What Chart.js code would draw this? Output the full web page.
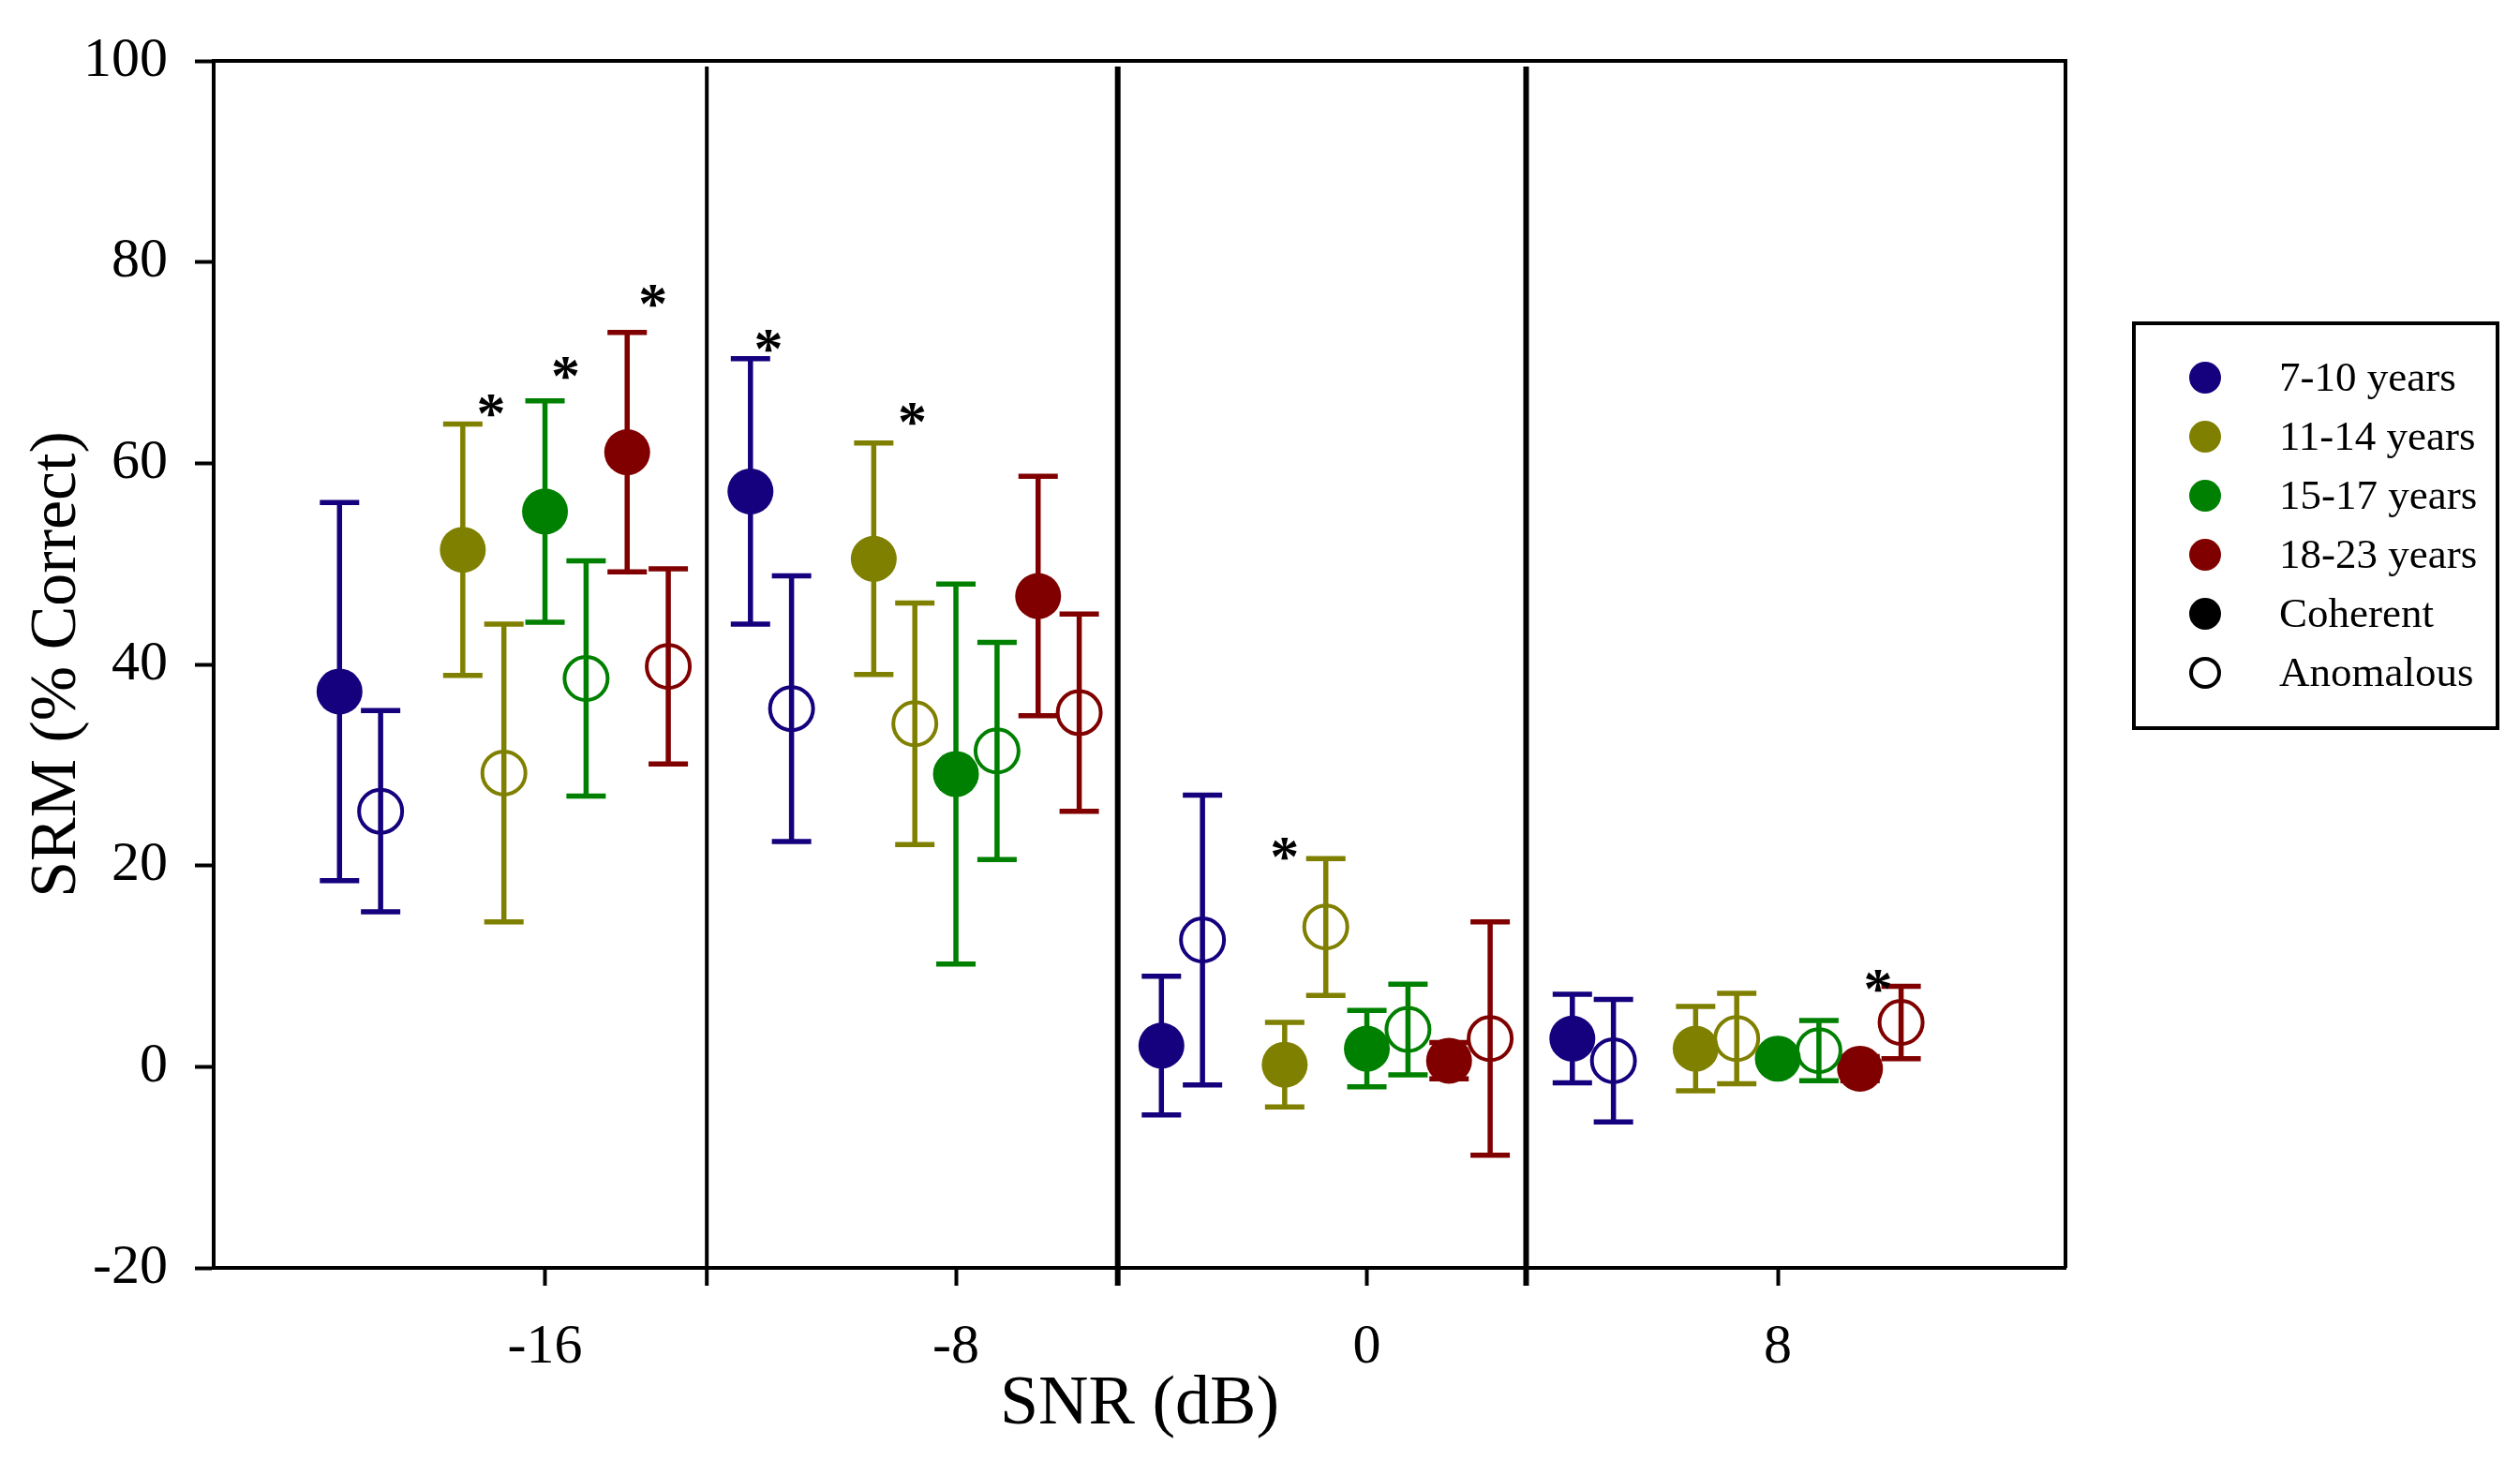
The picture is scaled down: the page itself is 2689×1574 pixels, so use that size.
<!DOCTYPE html>
<html>
<head>
<meta charset="utf-8">
<title>SRM by SNR</title>
<script src="https://cdn.jsdelivr.net/npm/chart.js@4.4.1/dist/chart.umd.min.js"></script>
<style>
  html, body { margin: 0; padding: 0; background: #fff; }
  #wrap { width: 2689px; height: 1574px; }
</style>
</head>
<body>
<div id="wrap"><canvas id="srmChart" width="2689" height="1574"></canvas></div>
<script>
// SNR conditions (dB) and groups
const snrLevels = [-16, -8, 0, 8];
const ageGroups = ['7-10 years', '11-14 years', '15-17 years', '18-23 years'];
const conditions = ['Coherent', 'Anomalous'];

// SRM (% correct): one row per age group, one column per SNR
const coherentMeans = [
  [37.3, 57.2, 2.1, 2.8],
  [51.4, 50.5, 0.2, 1.8],
  [55.2, 29.1, 1.8, 0.8],
  [61.1, 46.8, 0.6, -0.2],
];
const coherentSD = [
  [18.8, 13.2, 6.9, 4.4],
  [12.5, 11.5, 4.2, 4.2],
  [11.0, 18.9, 3.8, 0.8],
  [11.9, 11.9, 1.8, 1.2],
];
const anomalousMeans = [
  [25.4, 35.6, 12.6, 0.6],
  [29.2, 34.1, 13.9, 2.8],
  [38.6, 31.4, 3.7, 1.6],
  [39.8, 35.2, 2.8, 4.4],
];
const anomalousSD = [
  [10.0, 13.2, 14.4, 6.1],
  [14.8, 12.0, 6.8, 4.5],
  [11.7, 10.8, 4.5, 3.0],
  [9.7, 9.8, 11.6, 3.6],
];

// x offset (dB) of each age group inside an SNR cluster
const coherentDodge = [-4.0, -1.6, 0, 1.6];
const anomalousDodge = [-3.2, -0.8, 0.8, 2.4];

// vertical lines between SNR clusters (dB)
const dividers = [-12.85, -4.85, 3.1];

// significance asterisks
const starX = [-17.05, -15.6, -13.9, -11.65, -8.85, -1.6, 9.95];
const starY = [65.8, 69.5, 76.7, 72.2, 65.0, 21.7, 8.6];

const yTicks = [-20, 0, 20, 40, 60, 80, 100];

// styles
const ageColors = ['#15007d', '#808000', '#008000', '#800000'];
const FONT = "'Liberation Serif', 'Times New Roman', serif";
const dividerWidths = [4, 6, 6];

/**
 * Build one scatter dataset per age group and condition
 */
function buildDatasets() {
  const sets = [];
  ageGroups.forEach((age, i) => {
    sets.push({
      label: `${age} ${conditions[0]}`,
      data: snrLevels.map((snr, j) => ({ x: snr + coherentDodge[i], y: coherentMeans[i][j] })),
      errors: coherentSD[i],
      backgroundColor: ageColors[i],
      borderColor: ageColors[i],
      pointRadius: 24.5,
      pointBorderWidth: 0,
    });
    sets.push({
      label: `${age} ${conditions[1]}`,
      data: snrLevels.map((snr, j) => ({ x: snr + anomalousDodge[i], y: anomalousMeans[i][j] })),
      errors: anomalousSD[i],
      backgroundColor: 'rgba(0,0,0,0)',
      borderColor: ageColors[i],
      pointRadius: 23,
      pointBorderWidth: 4,
    });
  });
  return sets;
}

// error bars, drawn under the markers
const errorBars = {
  id: 'errorBars',
  beforeDatasetsDraw(chart) {
    const { ctx, scales: { x, y } } = chart;
    ctx.save();
    ctx.lineWidth = 5.5;
    chart.data.datasets.forEach(ds => {
      ctx.strokeStyle = ds.borderColor;
      ds.data.forEach((pt, k) => {
        const px = x.getPixelForValue(pt.x);
        const top = y.getPixelForValue(pt.y + ds.errors[k]);
        const bot = y.getPixelForValue(pt.y - ds.errors[k]);
        ctx.beginPath();
        ctx.moveTo(px, top);
        ctx.lineTo(px, bot);
        ctx.moveTo(px - 21, top);
        ctx.lineTo(px + 21, top);
        ctx.moveTo(px - 21, bot);
        ctx.lineTo(px + 21, bot);
        ctx.stroke();
      });
    });
    ctx.restore();
  },
};

// frame top/right and cluster dividers
const frame = {
  id: 'frame',
  beforeDatasetsDraw(chart) {
    const { ctx, chartArea: a, scales: { x } } = chart;
    ctx.save();
    ctx.strokeStyle = '#000';
    ctx.lineWidth = 4;
    ctx.beginPath();
    ctx.moveTo(a.left, a.top);
    ctx.lineTo(a.right, a.top);
    ctx.lineTo(a.right, a.bottom);
    ctx.stroke();
    dividers.forEach((d, i) => {
      const px = x.getPixelForValue(d);
      ctx.lineWidth = dividerWidths[i];
      ctx.beginPath();
      ctx.moveTo(px, a.top + 6);
      ctx.lineTo(px, a.bottom + 19);
      ctx.stroke();
    });
    ctx.restore();
  },
};

// asterisks for significant differences
const stars = {
  id: 'stars',
  afterDatasetsDraw(chart) {
    const { ctx, scales: { x, y } } = chart;
    ctx.save();
    ctx.fillStyle = '#000';
    ctx.font = `bold 62px ${FONT}`;
    ctx.textAlign = 'center';
    ctx.textBaseline = 'alphabetic';
    starX.forEach((sx, i) => {
      ctx.fillText('*', x.getPixelForValue(sx), y.getPixelForValue(starY[i]) + 29);
    });
    ctx.restore();
  },
};

// boxed legend to the right of the plot
const legendBox = {
  id: 'legendBox',
  afterDraw(chart) {
    const { ctx, chartArea: a } = chart;
    const left = a.right + 73;
    const top = 345;
    const items = ageGroups.map((g, i) => ({ text: g, fill: ageColors[i], stroke: null }))
      .concat([
        { text: conditions[0], fill: '#000', stroke: null },
        { text: conditions[1], fill: null, stroke: '#000' },
      ]);
    ctx.save();
    ctx.strokeStyle = '#000';
    ctx.lineWidth = 4;
    ctx.strokeRect(left, top, 388, 432);
    ctx.font = `45px ${FONT}`;
    ctx.textBaseline = 'middle';
    ctx.textAlign = 'left';
    items.forEach((it, i) => {
      const cy = top + 58 + i * 63;
      ctx.beginPath();
      ctx.arc(left + 76, cy, it.stroke ? 15 : 17, 0, Math.PI * 2);
      if (it.fill) {
        ctx.fillStyle = it.fill;
        ctx.fill();
      }
      if (it.stroke) {
        ctx.lineWidth = 4;
        ctx.strokeStyle = it.stroke;
        ctx.stroke();
      }
      ctx.fillStyle = '#000';
      ctx.fillText(it.text, left + 155, cy + 2);
    });
    ctx.restore();
  },
};

const canvas = document.getElementById('srmChart');

new Chart(canvas, {
  type: 'scatter',
  data: { datasets: buildDatasets() },
  plugins: [frame, errorBars, stars, legendBox],
  options: {
    responsive: false,
    animation: false,
    layout: { padding: { left: 0, top: 63, right: 485, bottom: 0 } },
    plugins: {
      legend: { display: false },
      tooltip: { enabled: false },
    },
    scales: {
      x: {
        type: 'linear',
        min: -22.45,
        max: 13.6,
        afterBuildTicks: axis => { axis.ticks = snrLevels.map(v => ({ value: v })); },
        afterFit: axis => { axis.height = 221; },
        grid: { drawOnChartArea: false, tickLength: 19, tickWidth: 4, tickColor: '#000' },
        border: { color: '#000', width: 4 },
        ticks: {
          color: '#000',
          padding: 30,
          font: { family: FONT, size: 60 },
          callback: v => String(v),
        },
        title: {
          display: true,
          text: 'SNR (dB)',
          color: '#000',
          font: { family: FONT, size: 74 },
          padding: { top: 0, bottom: 30 },
        },
      },
      y: {
        type: 'linear',
        min: -20,
        max: 100,
        afterBuildTicks: axis => { axis.ticks = yTicks.map(v => ({ value: v })); },
        afterFit: axis => { axis.width = 228; },
        grid: { drawOnChartArea: false, tickLength: 20, tickWidth: 4, tickColor: '#000' },
        border: { color: '#000', width: 4 },
        ticks: {
          color: '#000',
          padding: 29,
          font: { family: FONT, size: 60 },
          callback: v => String(v),
        },
        title: {
          display: true,
          text: 'SRM (% Correct)',
          color: '#000',
          font: { family: FONT, size: 70 },
          padding: { top: 20, bottom: 0 },
        },
      },
    },
  },
});
</script>
</body>
</html>
